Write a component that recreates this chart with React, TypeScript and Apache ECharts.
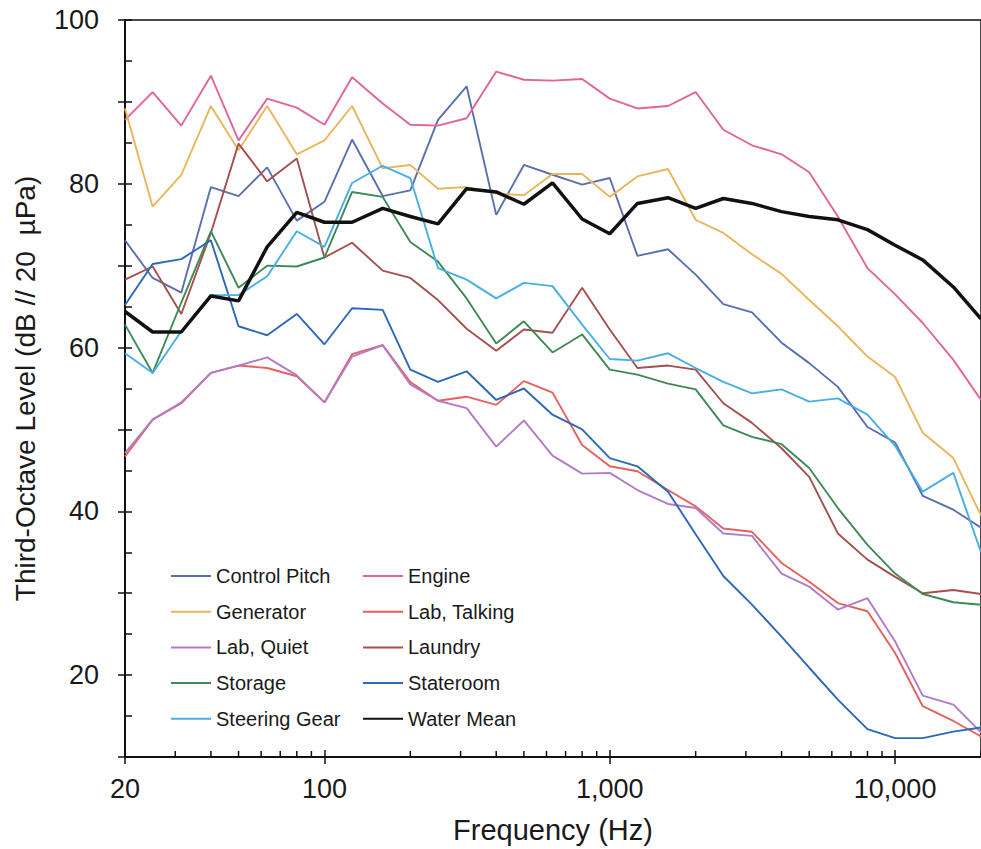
import React, { useEffect, useRef } from "react";
import * as echarts from "echarts";

const FREQUENCIES = [20, 25, 31.5, 40, 50, 63, 80, 100, 125, 160, 200, 250, 315, 400, 500, 630, 800, 1000, 1250, 1600, 2000, 2500, 3150, 4000, 5000, 6300, 8000, 10000, 12500, 16000, 20000];

const controlPitch = [73.1, 68.5, 66.7, 79.6, 78.5, 82.0, 75.5, 77.8, 85.4, 78.5, 79.2, 87.8, 91.9, 76.2, 82.3, 81.1, 79.9, 80.7, 71.2, 72.0, 68.9, 65.3, 64.3, 60.6, 58.1, 55.2, 50.3, 48.4, 41.9, 40.2, 38.0];
const engine = [87.8, 91.2, 87.1, 93.2, 85.3, 90.4, 89.3, 87.2, 93.0, 89.8, 87.2, 87.1, 88.0, 93.7, 92.7, 92.6, 92.8, 90.4, 89.2, 89.5, 91.2, 86.6, 84.7, 83.6, 81.4, 76.0, 69.7, 66.5, 63.0, 58.5, 53.6];
const generator = [89.2, 77.2, 81.1, 89.5, 84.1, 89.5, 83.6, 85.3, 89.5, 81.9, 82.3, 79.4, 79.6, 78.8, 78.6, 81.2, 81.2, 78.4, 80.9, 81.8, 75.6, 74.0, 71.4, 69.0, 65.8, 62.6, 58.9, 56.4, 49.6, 46.5, 39.5];
const labTalking = [46.7, 51.2, 53.2, 56.9, 57.8, 57.5, 56.5, 53.3, 59.2, 60.3, 55.8, 53.5, 54.0, 53.0, 55.9, 54.5, 48.1, 45.5, 44.9, 42.6, 40.6, 37.9, 37.5, 33.7, 31.4, 28.8, 27.8, 22.7, 16.2, 14.4, 12.5];
const labQuiet = [47.1, 51.2, 53.3, 56.9, 57.8, 58.8, 56.6, 53.3, 58.9, 60.3, 55.5, 53.5, 52.6, 47.9, 51.1, 46.8, 44.6, 44.7, 42.6, 40.9, 40.4, 37.3, 37.0, 32.4, 30.8, 28.0, 29.4, 24.1, 17.5, 16.4, 13.0];
const laundry = [68.3, 69.9, 64.1, 74.0, 84.9, 80.3, 83.1, 71.0, 72.8, 69.4, 68.5, 65.8, 62.3, 59.6, 62.2, 61.8, 67.3, 62.2, 57.5, 57.8, 57.3, 53.2, 50.8, 47.7, 44.2, 37.3, 34.1, 32.0, 30.0, 30.4, 29.9];
const storage = [62.8, 56.9, 65.5, 74.2, 67.3, 70.0, 69.9, 71.0, 79.0, 78.4, 72.9, 70.5, 66.0, 60.5, 63.2, 59.4, 61.6, 57.3, 56.7, 55.6, 54.9, 50.5, 49.1, 48.2, 45.3, 40.4, 35.9, 32.4, 29.9, 28.9, 28.6];
const stateroom = [65.2, 70.2, 70.8, 73.1, 62.6, 61.5, 64.1, 60.4, 64.8, 64.6, 57.3, 55.8, 57.1, 53.6, 55.0, 51.8, 50.0, 46.5, 45.5, 42.4, 37.2, 32.1, 28.6, 24.7, 20.9, 17.0, 13.4, 12.3, 12.3, 13.1, 13.6];
const steeringGear = [59.3, 56.9, 62.0, 66.4, 66.4, 68.7, 74.2, 72.3, 80.1, 82.2, 80.7, 69.7, 68.3, 66.0, 67.9, 67.5, 62.8, 58.6, 58.4, 59.3, 57.5, 55.8, 54.4, 54.9, 53.4, 53.8, 51.8, 48.0, 42.4, 44.7, 35.0];
const waterMean = [64.4, 61.9, 61.9, 66.3, 65.7, 72.3, 76.5, 75.3, 75.3, 77.0, 76.0, 75.1, 79.4, 79.0, 77.5, 80.1, 75.7, 73.9, 77.6, 78.3, 77.0, 78.2, 77.6, 76.6, 76.0, 75.6, 74.4, 72.5, 70.7, 67.4, 63.5];

const SERIES_NAMES = ["Control Pitch", "Engine", "Generator", "Lab, Talking", "Lab, Quiet", "Laundry", "Storage", "Stateroom", "Steering Gear", "Water Mean"];
const SERIES_VALUES = [controlPitch, engine, generator, labTalking, labQuiet, laundry, storage, stateroom, steeringGear, waterMean];
const SERIES_COLORS = ["#5a6fae", "#e0649a", "#e9b65c", "#e5605e", "#b37bc4", "#a4504e", "#3e8a56", "#2b68b8", "#48aee6", "#111111"];

const LEGEND_LEFT = ["Control Pitch", "Generator", "Lab, Quiet", "Storage", "Steering Gear"];
const LEGEND_RIGHT = ["Engine", "Lab, Talking", "Laundry", "Stateroom", "Water Mean"];

const X_MIN = 20;
const X_MAX = 20000;
const Y_MIN = 10;
const Y_MAX = 100;
const MINOR_X_TICKS = [30, 40, 50, 60, 70, 80, 90, 200, 300, 400, 500, 600, 700, 800, 900, 2000, 3000, 4000, 5000, 6000, 7000, 8000, 9000];

const FONT = "'Liberation Sans', Arial, Helvetica, sans-serif";
const INK = "#1a1a1a";

export default function App() {
  const ref = useRef<HTMLDivElement>(null);

  useEffect(() => {
    if (!ref.current) return;
    const chart = echarts.init(ref.current, null, { renderer: "svg" });

    const lineSeries = SERIES_NAMES.map((name, i) => ({
      name,
      type: "line",
      data: FREQUENCIES.map((f, j) => [f, SERIES_VALUES[i][j]]),
      symbol: "none",
      showSymbol: false,
      xAxisIndex: 0,
      yAxisIndex: 0,
      lineStyle: { color: SERIES_COLORS[i], width: name === "Water Mean" ? 3.5 : 1.9 },
      itemStyle: { color: SERIES_COLORS[i] },
      z: name === "Water Mean" ? 5 : 3,
      silent: true,
      emphasis: { disabled: true },
    }));

    const legendBase = {
      orient: "vertical",
      top: 566,
      padding: 0,
      itemWidth: 40,
      itemHeight: 20,
      itemGap: 15.7,
      selectedMode: false,
      itemStyle: { opacity: 0, borderWidth: 0 },
      textStyle: { fontFamily: FONT, fontSize: 20, color: INK },
    };

    chart.setOption({
      animation: false,
      backgroundColor: "#ffffff",
      textStyle: { fontFamily: FONT },
      grid: {
        left: 125,
        top: 20,
        bottom: 92,
        right: -5,
        show: true,
        borderColor: "#111",
        borderWidth: 1.5,
        containLabel: false,
      },
      legend: [
        { ...legendBase, left: 170, data: LEGEND_LEFT },
        { ...legendBase, left: 362, data: LEGEND_RIGHT },
      ],
      xAxis: [
        {
          type: "log",
          logBase: 10,
          min: X_MIN,
          max: X_MAX,
          position: "bottom",
          name: "Frequency (Hz)",
          nameLocation: "middle",
          nameGap: 58,
          nameTextStyle: { fontFamily: FONT, fontSize: 29, color: INK },
          axisLine: { show: true, lineStyle: { color: "#111", width: 2 } },
          axisTick: { show: true, inside: false, length: 7, lineStyle: { color: "#111", width: 1.5 } },
          axisLabel: {
            fontFamily: FONT,
            fontSize: 27,
            color: INK,
            margin: 18,
            showMaxLabel: false,
            formatter: (v: number) => Math.round(v).toLocaleString("en-US"),
          },
          splitLine: { show: false },
        },
        {
          type: "log",
          logBase: 10,
          min: X_MIN,
          max: X_MAX,
          position: "bottom",
          offset: 0,
          axisLine: { show: false },
          axisTick: { show: true, inside: true, length: 7, lineStyle: { color: "#111", width: 1.5 } },
          axisLabel: { show: false },
          splitLine: { show: false },
        },
      ],
      yAxis: [
        {
          type: "value",
          min: Y_MIN,
          max: Y_MAX,
          interval: 10,
          position: "left",
          name: "Third-Octave Level (dB // 20  µPa)",
          nameLocation: "middle",
          nameGap: 86,
          nameTextStyle: { fontFamily: FONT, fontSize: 28, color: INK },
          axisLine: { show: true, lineStyle: { color: "#111", width: 2 } },
          axisTick: { show: true, inside: false, length: 7, lineStyle: { color: "#111", width: 1.5 } },
          axisLabel: {
            fontFamily: FONT,
            fontSize: 27,
            color: INK,
            margin: 26,
            formatter: (v: number) => (v % 20 === 0 ? String(v) : ""),
          },
          splitLine: { show: false },
        },
        {
          type: "value",
          min: Y_MIN,
          max: Y_MAX,
          interval: 5,
          position: "left",
          offset: 0,
          axisLine: { show: false },
          axisTick: { show: true, inside: true, length: 7, lineStyle: { color: "#111", width: 1.5 } },
          axisLabel: { show: false },
          splitLine: { show: false },
        },
      ],
      series: [
        ...lineSeries,
        {
          name: "minorTicks",
          type: "custom",
          xAxisIndex: 0,
          yAxisIndex: 0,
          silent: true,
          z: 10,
          data: MINOR_X_TICKS.map((f) => [f, Y_MIN]),
          renderItem: (params: any, api: any) => {
            const p = api.coord([api.value(0), api.value(1)]);
            return {
              type: "line",
              shape: { x1: p[0], y1: p[1], x2: p[0], y2: p[1] - 6 },
              style: { stroke: "#111", lineWidth: 1.5 },
            };
          },
        },
      ],
    });

    return () => chart.dispose();
  }, []);

  return (
    <div
      ref={ref}
      style={{ position: "fixed", left: 0, top: 0, width: 981, height: 849, background: "#fff" }}
    />
  );
}
